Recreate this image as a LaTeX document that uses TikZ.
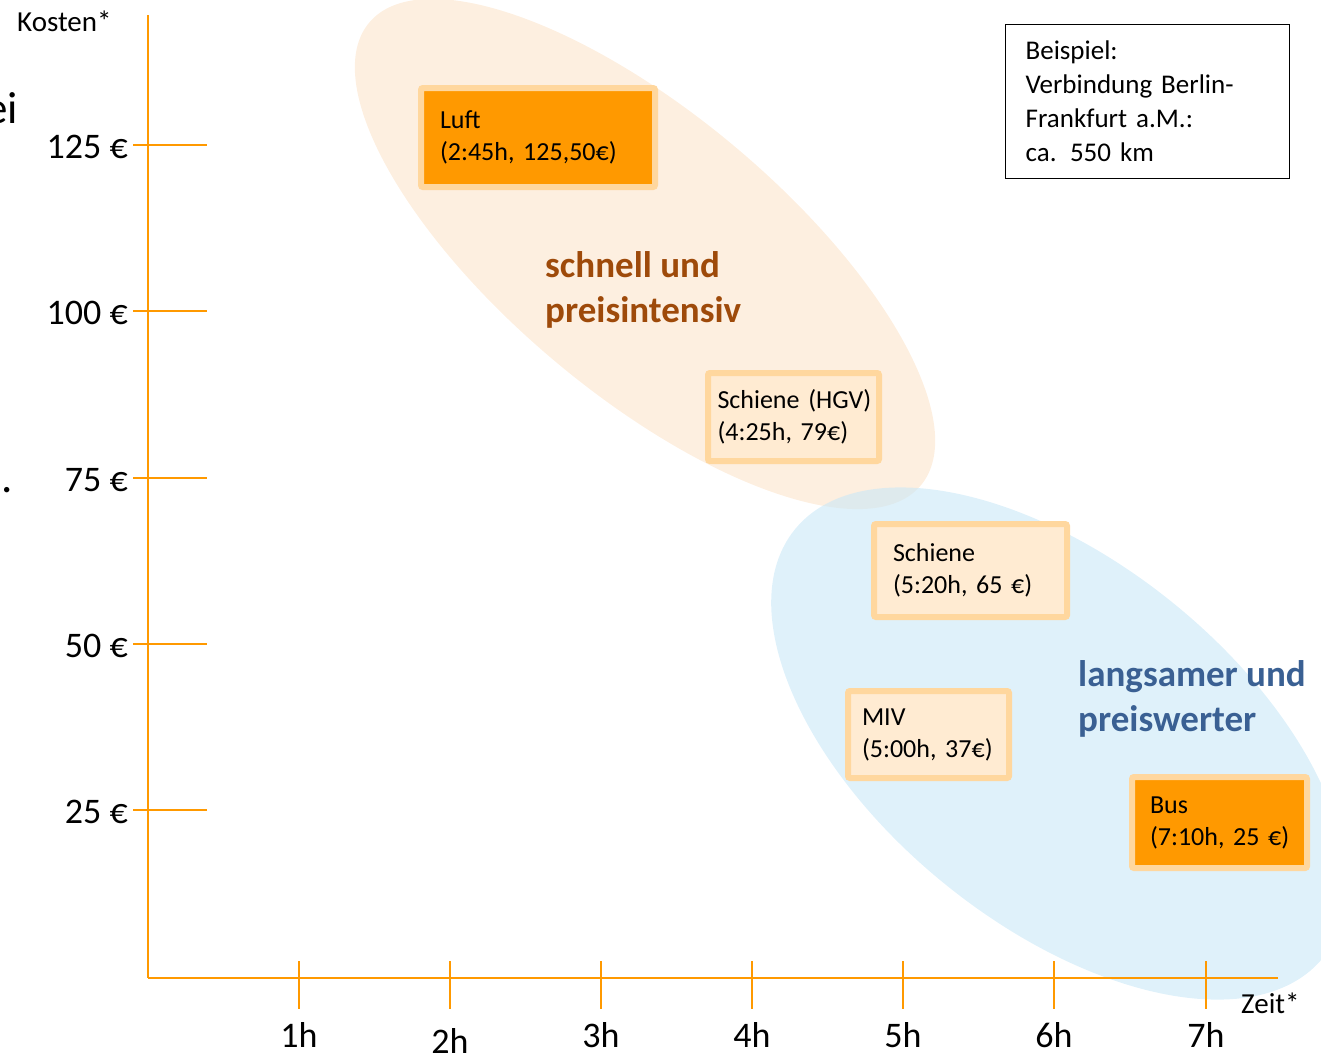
\documentclass[tikz,border=0pt]{standalone}
\usepackage{fontspec}
\setmainfont{Carlito}
\usetikzlibrary{positioning}
\definecolor{achse}{RGB}{255,153,0}
\definecolor{boxrand}{RGB}{255,215,158}
\definecolor{boxhell}{RGB}{255,235,210}
\definecolor{ellorange}{RGB}{253,239,224}
\definecolor{ellblau}{RGB}{202,232,247}
\definecolor{txtbraun}{RGB}{158,74,10}
\definecolor{txtblau}{RGB}{58,96,147}
\tikzstyle{obox}=[rectangle, rounded corners=2pt, draw=boxrand, fill=achse,
                  line width=6pt, anchor=west, align=left,
                  font=\fontsize{26}{32}\selectfont]
\tikzstyle{lbox}=[obox, fill=boxhell]
\tikzstyle{infobox}=[rectangle, draw=black, line width=1.2pt, anchor=west,
                  align=left, font=\fontsize{27}{34}\selectfont]
\tikzstyle{axline}=[-, draw=achse, line width=2pt]
\tikzstyle{ylab}=[anchor=base east, inner sep=0pt, font=\fontsize{36}{40}\selectfont]
\tikzstyle{xlab}=[anchor=base, inner sep=0pt, font=\fontsize{36}{40}\selectfont]
\tikzstyle{axname}=[anchor=base west, inner sep=0pt, font=\fontsize{29}{34}\selectfont]
\tikzstyle{gruppe}=[anchor=base west, align=left, inner sep=0pt,
                  font=\fontsize{37}{44.5}\selectfont\bfseries]
\begin{document}
\begin{tikzpicture}[x=1pt, y=-1pt]
\useasboundingbox (0,0) rectangle (1321,1052);

\fill[ellorange, rotate around={-40:(645,254)}] (645,254) ellipse [x radius=360, y radius=140];
\fill[ellblau, fill opacity=0.6, rotate around={-39:(1059,743.5)}] (1059,743.5) ellipse [x radius=340, y radius=181];

\node (REST1) [anchor=base east, inner sep=0pt, font=\fontsize{45}{54}\selectfont] at (18,123) {ei};
\node (REST2) [anchor=base, inner sep=0pt, font=\fontsize{45}{54}\selectfont] at (7,492) {.};

\draw[axline] (148,15) -- (148,978);
\draw[axline] (148,978) -- (1278,978);
\draw[axline] (133,145) -- (207,145);
\draw[axline] (133,311) -- (207,311);
\draw[axline] (133,478) -- (207,478);
\draw[axline] (133,644) -- (207,644);
\draw[axline] (133,810) -- (207,810);
\draw[axline] (299,961) -- (299,1009);
\draw[axline] (450,961) -- (450,1009);
\draw[axline] (601,961) -- (601,1009);
\draw[axline] (752,961) -- (752,1009);
\draw[axline] (903,961) -- (903,1009);
\draw[axline] (1054,961) -- (1054,1009);
\draw[axline] (1206,961) -- (1206,1009);

\node (KOSTEN) [axname] at (17,31) {Kosten*};
\node (ZEIT) [axname] at (1241,1013) {Zeit*};

\node (E125) [ylab] at (128,158) {125 €};
\node (E100) [ylab] at (128,324) {100 €};
\node (E75) [ylab] at (128,491) {75 €};
\node (E50) [ylab] at (128,657) {50 €};
\node (E25) [ylab] at (128,823) {25 €};

\node (H1) [xlab] at (299,1047) {1h};
\node (H2) [xlab] at (450,1053) {2h};
\node (H3) [xlab] at (601,1047) {3h};
\node (H4) [xlab] at (752,1047) {4h};
\node (H5) [xlab] at (903,1047) {5h};
\node (H6) [xlab] at (1054,1047) {6h};
\node (H7) [xlab] at (1206,1047) {7h};

\node (LUFT) [obox, minimum height=99pt, text width=196pt, inner xsep=19pt]
  at (418,137.5) {\mbox{Luft}\\\mbox{(2:45h, 125,50€)}};
\node (HGV) [lbox, minimum height=88pt, text width=152pt, inner xsep=9.5pt]
  at (705,417) {\mbox{Schiene (HGV)}\\\mbox{(4:25h, 79€)}};
\node (SCHIENE) [lbox, minimum height=93pt, text width=155pt, inner xsep=19pt]
  at (871,570.5) {\mbox{Schiene}\\\mbox{(5:20h, 65 €)}};
\node (MIV) [lbox, minimum height=87pt, text width=133pt, inner xsep=14pt]
  at (845,734.5) {\mbox{MIV}\\\mbox{(5:00h, 37€)}};
\node (BUS) [obox, minimum height=91pt, text width=139pt, inner xsep=18pt]
  at (1129,822.5) {\mbox{Bus}\\\mbox{(7:10h, 25 €)}};

\node (SCHNELL) [gruppe, text=txtbraun] at (545,322) {schnell und\\preisintensiv};
\node (LANGSAM) [gruppe, text=txtblau] at (1078,731) {langsamer und\\preiswerter};

\node (BSP) [infobox, minimum height=154pt, text width=244pt, inner xsep=20pt]
  at (1005,101.5) {Beispiel:\\Verbindung Berlin-\\Frankfurt a.M.:\\ca. 550 km};

\end{tikzpicture}
\end{document}
